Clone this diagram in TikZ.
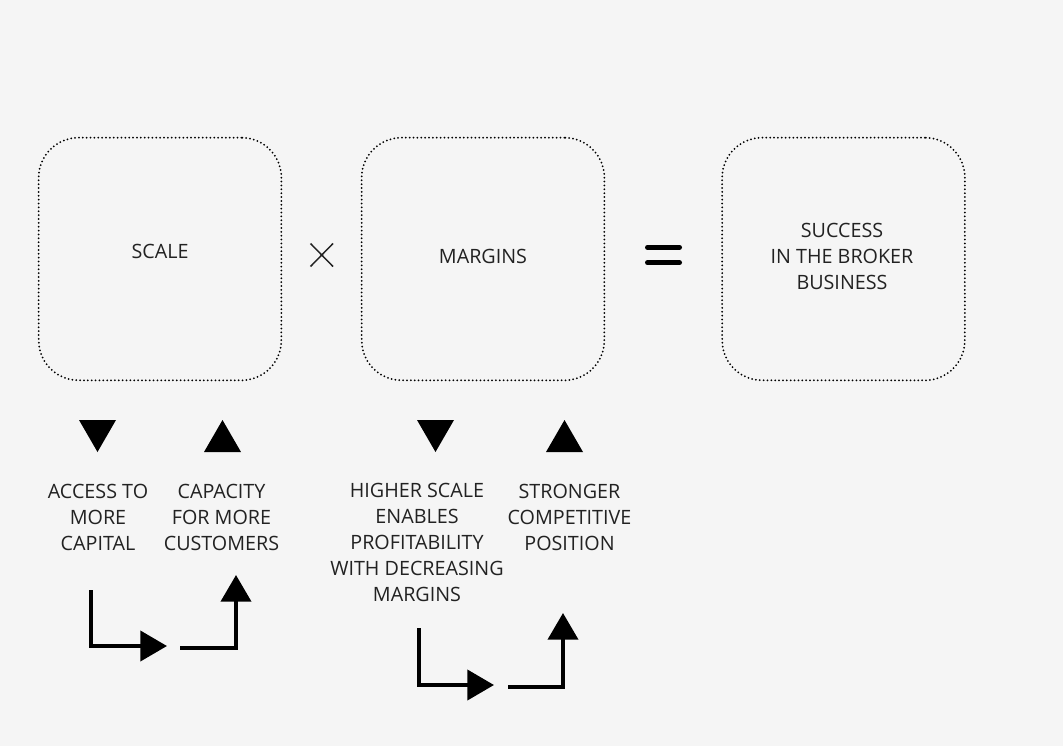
\documentclass[tikz,border=0pt]{standalone}
\usepackage{fontspec}
\setmainfont{Open Sans}
\usetikzlibrary{arrows.meta}
\definecolor{paper}{HTML}{F5F5F5}
\definecolor{ink}{HTML}{222222}
\tikzset{
  factor/.style={draw=black, line width=1.5pt, dash pattern=on 0pt off 2.9pt, line cap=round,
    rounded corners=30pt, minimum width=182pt, minimum height=182pt},
  note/.style={align=center, inner sep=0pt, text=ink, font=\fontsize{14.8pt}{19.5pt}\selectfont},
  turn/.style={line width=3pt, -{Triangle[length=20pt,width=22.5pt]}}
}
\begin{document}
\begin{tikzpicture}[x=0.75pt,y=-0.75pt]
                \path[use as bounding box, fill=paper] (0,0) rectangle (1063,746);
                \node[factor] (scale) at (160,259) {};
                \node[factor] (margins) at (483,259) {};
                \node[factor] (success) at (843.5,259) {};
                \node[note] (scaletxt) at (160,251) {SCALE};
                \node[note] (marginstxt) at (483,256) {MARGINS};
                \node[note] (successtxt) at (842,256) {SUCCESS\\IN THE BROKER\\BUSINESS};
                \draw[ink,line width=1.1pt] (310.5,243.5) -- (333,266.5) (333,243.5) -- (310.5,266.5);
                \draw[line width=3.75pt,line cap=round] (647.5,247.3) -- (679.5,247.3) (647.5,262.7) -- (679.5,262.7);
                \foreach \x in {97.5,435.5}
                    \fill (\x-18.5,420) -- (\x+18.5,420) -- (\x,452) -- cycle;
                \foreach \x in {222.5,564.5}
                    \fill (\x-18.5,452) -- (\x+18.5,452) -- (\x,420) -- cycle;
                \node[note] (capital) at (98,517) {ACCESS TO\\MORE\\CAPITAL};
                \node[note] (customers) at (221.5,517) {CAPACITY\\FOR MORE\\CUSTOMERS};
                \node[note] (profit) at (417,542) {HIGHER SCALE\\ENABLES\\PROFITABILITY\\WITH DECREASING\\MARGINS};
                \node[note] (position) at (569.5,517) {STRONGER\\COMPETITIVE\\POSITION};
                \coordinate (s1) at (91,590);
                \coordinate (s2) at (167,646);
                \coordinate (s3) at (180,648);
                \coordinate (s4) at (236,575);
                \coordinate (m1) at (419,628);
                \coordinate (m2) at (494,685);
                \coordinate (m3) at (508,687);
                \coordinate (m4) at (563,613);
                \draw[turn] (s1) |- (s2);
                \draw[turn] (s3) -| (s4);
                \draw[turn] (m1) |- (m2);
                \draw[turn] (m3) -| (m4);
            \end{tikzpicture}
\end{document}
